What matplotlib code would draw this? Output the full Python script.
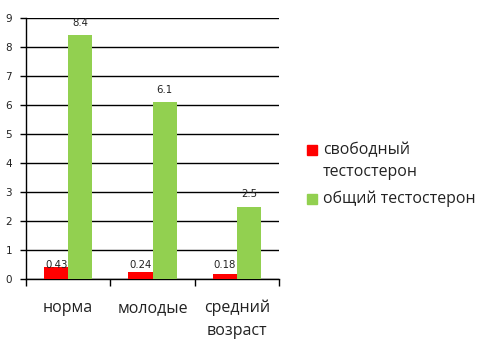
import matplotlib
matplotlib.use("Agg")
import matplotlib.pyplot as plt
from matplotlib.patches import Rectangle
import numpy as np

categories = ["норма", "молодые", "средний\nвозраст"]
free_t = [0.43, 0.24, 0.18]
total_t = [8.4, 6.1, 2.5]
series_names = ["свободный\nтестостерон", "общий тестостерон"]
colors = ["#FF0000", "#92D050"]

W, H = 496, 344
fig = plt.figure(figsize=(W / 100, H / 100), dpi=100)
ax = fig.add_axes([26 / W, 1 - 279 / H, (279 - 26) / W, (279 - 18) / H])

x = np.arange(len(categories))
bw = 0.285
ax.bar(x - bw / 2, free_t, bw, color=colors[0], zorder=3)
ax.bar(x + bw / 2, total_t, bw, color=colors[1], zorder=3)

num_font = dict(family="DejaVu Sans", fontsize=7.3, color="#222222")
for xi, v in zip(x, total_t):
    ax.annotate(f"{v:g}", (xi + bw / 2, v), xytext=(0, 9), textcoords="offset points",
                ha="center", va="center", **num_font)
red_label_y = max(free_t) + 0.05
for xi, v in zip(x, free_t):
    ax.text(xi - bw / 2, red_label_y, f"{v:g}", ha="center", va="center", zorder=4, **num_font)

ax.set_xlim(-0.5, len(categories) - 0.5)
ax.set_ylim(0, 9)
ax.set_yticks(range(0, 10))
ax.set_yticklabels([str(i) for i in range(10)], family="DejaVu Sans", fontsize=7.5, color="#222222")
ax.grid(axis="y", color="black", linewidth=1.0, zorder=0)
ax.tick_params(axis="y", length=4, width=1, color="black", pad=6)

ax.set_xticks(x)
ax.set_xticklabels(categories, family="Open Sans", fontsize=11.5, color="#222222", linespacing=1.55)
ax.tick_params(axis="x", which="major", length=0, pad=15)
ax.set_xticks(np.arange(-0.5, len(categories)), minor=True)
ax.tick_params(axis="x", which="minor", length=5, width=1, color="black")

for s in ["top", "right"]:
    ax.spines[s].set_visible(False)
for s in ["left", "bottom"]:
    ax.spines[s].set_color("black")
    ax.spines[s].set_linewidth(1.0)

# legend
leg_font = dict(family="Open Sans", fontsize=11.4, color="#222222")
rows = [(150, 0), (199, 1)]
for yc, i in rows:
    fig.add_artist(Rectangle((307 / W, 1 - (yc + 5) / H), 10 / W, 10 / H,
                             transform=fig.transFigure, color=colors[i]))
fig.text(323 / W, 1 - 150 / H, "свободный", ha="left", va="center", **leg_font)
fig.text(323 / W, 1 - 172 / H, "тестостерон", ha="left", va="center", **leg_font)
fig.text(323 / W, 1 - 199 / H, series_names[1], ha="left", va="center", **leg_font)

fig.savefig("out.png", dpi=100)
